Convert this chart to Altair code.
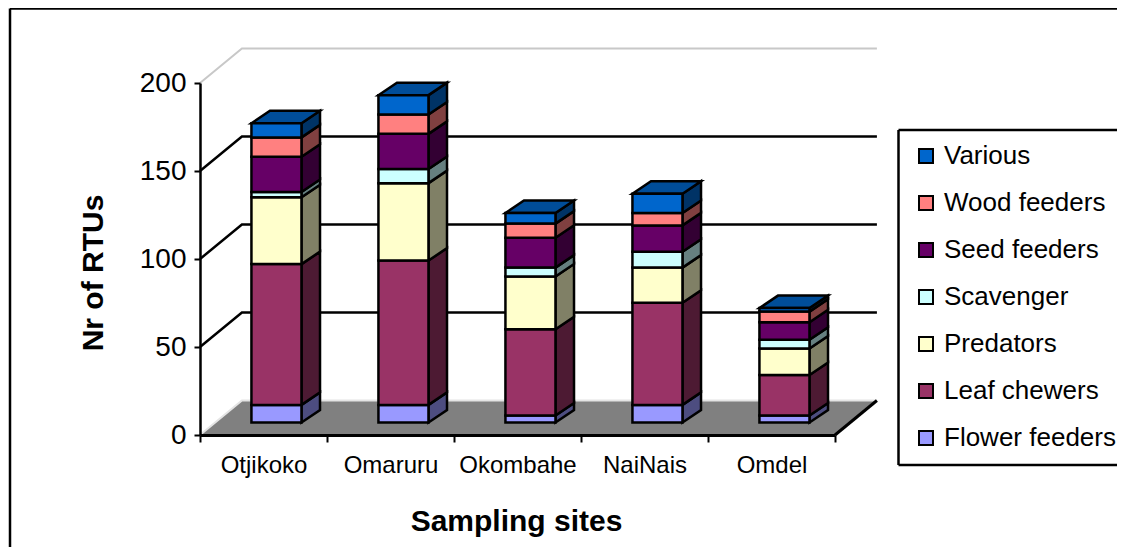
import altair as alt
import pandas as pd

sites = ["Otjikoko", "Omaruru", "Okombahe", "NaiNais", "Omdel"]
flower = [10, 10, 4, 10, 4]
leaf = [80, 82, 49, 58, 23]
predators = [38, 44, 30, 20, 15]
scavenger = [3, 8, 5, 9, 5]
seed = [20, 20, 17, 15, 10]
wood = [11, 11, 8, 7, 6]
various = [8, 11, 6, 11, 2]

guilds = ["Flower feeders", "Leaf chewers", "Predators", "Scavenger",
          "Seed feeders", "Wood feeders", "Various"]
series = [flower, leaf, predators, scavenger, seed, wood, various]
front_colors = ["#9999FF", "#993366", "#FFFFCC", "#CCFFFF", "#660066", "#FF8080", "#0066CC"]
side_colors = ["#4D4D80", "#4D1A33", "#808066", "#668080", "#330033", "#804040", "#003366"]
top_color = "#004D99"
y_ticks = [0, 50, 100, 150, 200]
grid_values = [50, 100, 150]

# oblique projection, in scale units (x: one category per unit, y: RTUs)
WALL_X, WALL_Y = 0.33, 19.6
BAR_X, BAR_W = 0.405, 0.394
BAR_BASE = 7.1
DEPTH_X, DEPTH_Y = 0.146, 7.1
N = len(sites)

front_rows, side_rows, top_rows = [], [], []
for i, site in enumerate(sites):
    x0 = i + BAR_X
    x1 = x0 + BAR_W
    low = BAR_BASE
    for guild, vals, sc in zip(guilds, series, side_colors):
        high = low + vals[i]
        front_rows.append(dict(site=site, guild=guild, count=vals[i], x=x0, x1=x1, y=low, high=high))
        key = f"{site}-{guild}"
        side_rows += [
            dict(key=key, color=sc, x=x1, y=low, y2=high),
            dict(key=key, color=sc, x=x1 + DEPTH_X, y=low + DEPTH_Y, y2=high + DEPTH_Y),
        ]
        low = high
    top_rows += [
        dict(key=site, x=x0, y=low, y2=low),
        dict(key=site, x=x0 + DEPTH_X, y=low, y2=low + DEPTH_Y),
        dict(key=site, x=x1, y=low, y2=low + DEPTH_Y),
        dict(key=site, x=x1 + DEPTH_X, y=low + DEPTH_Y, y2=low + DEPTH_Y),
    ]

floor_rows = [
    dict(x=0, y=0, y2=0),
    dict(x=WALL_X, y=0, y2=WALL_Y),
    dict(x=N, y=0, y2=WALL_Y),
    dict(x=N + WALL_X, y=WALL_Y, y2=WALL_Y),
]

def wall_line(v):
    return [dict(v=v, x=0, y=v), dict(v=v, x=WALL_X, y=v + WALL_Y), dict(v=v, x=N + WALL_X, y=v + WALL_Y)]

grid_rows = [r for v in grid_values for r in wall_line(v)]
top_edge_rows = wall_line(200)
floor_edge_rows = wall_line(0)
right_edge_rows = [dict(x=N, y=0), dict(x=N + WALL_X, y=WALL_Y)]

FONT = "Liberation Sans"
label_expr = "[" + ",".join(f"'{s}'" for s in sites) + ",''][datum.value]"

x_axis = alt.Axis(
    values=list(range(N + 1)), labelExpr=label_expr, labelOffset=63.5, labelFlush=False,
    labelOverlap=False, labelAlign="center", labelFontSize=24, labelFont=FONT, labelColor="black",
    labelPadding=11, tickColor="black", tickWidth=2, tickSize=7, domainColor="black", domainWidth=3,
    grid=False, zindex=1, title="Sampling sites", titleFont=FONT, titleFontSize=30,
    titleFontWeight="bold", titleColor="black", titleX=316, titleY=71,
)
y_axis = alt.Axis(
    values=y_ticks, labelFontSize=28, labelFont=FONT, labelColor="black", labelPadding=8,
    tickColor="black", tickWidth=2, tickSize=6, domainColor="black", domainWidth=2.5,
    grid=False, zindex=1, title="Nr of RTUs", titleFont=FONT, titleFontSize=30,
    titleFontWeight="bold", titleColor="black", titleX=-92, titleY=189.5,
)
x_scale = alt.Scale(domain=[0, N], nice=False, zero=False)
y_scale = alt.Scale(domain=[0, 200], nice=False)
x_enc = alt.X("x:Q", scale=x_scale, axis=x_axis)
y_enc = alt.Y("y:Q", scale=y_scale, axis=y_axis)

floor = alt.Chart(pd.DataFrame(floor_rows)).mark_area(fill="#808080").encode(x=x_enc, y=y_enc, y2="y2:Q")
grid = alt.Chart(pd.DataFrame(grid_rows)).mark_line(color="black", strokeWidth=2.5).encode(x=x_enc, y=y_enc, detail="v:N")
top_edge = alt.Chart(pd.DataFrame(top_edge_rows)).mark_line(color="#c8c8c8", strokeWidth=2).encode(x=x_enc, y=y_enc)
floor_edge = alt.Chart(pd.DataFrame(floor_edge_rows)).mark_line(color="#e4e4e4", strokeWidth=2).encode(x=x_enc, y=y_enc)
right_edge = alt.Chart(pd.DataFrame(right_edge_rows)).mark_line(color="black", strokeWidth=3).encode(x=x_enc, y=y_enc)

sides = alt.Chart(pd.DataFrame(side_rows)).mark_area(stroke="black", strokeWidth=2.5).encode(
    x=x_enc, y=y_enc, y2="y2:Q",
    color=alt.Color("color:N", scale=None), detail="key:N",
)
tops = alt.Chart(pd.DataFrame(top_rows)).mark_area(stroke="black", strokeWidth=2.5, fill=top_color).encode(
    x=x_enc, y=y_enc, y2="y2:Q", detail="key:N",
)
fronts = alt.Chart(pd.DataFrame(front_rows)).mark_rect(stroke="black", strokeWidth=2.5).encode(
    x=x_enc,
    x2="x1:Q",
    y=y_enc,
    y2="high:Q",
    fill=alt.Fill(
        "guild:N",
        scale=alt.Scale(domain=guilds[::-1], range=front_colors[::-1]),
        legend=alt.Legend(
            orient="none", legendX=713, legendY=60, title=None, symbolType="square", symbolSize=196,
            symbolStrokeColor="black", symbolStrokeWidth=2, labelFont=FONT, labelFontSize=26,
            labelColor="black", labelLimit=300, rowPadding=21, labelOffset=5, padding=0,
        ),
    ),
)

# frame pieces around the chart and the legend, in pixels from the plot origin
def rule(color, width, **enc):
    return alt.Chart(pd.DataFrame({"a": [0]})).mark_rule(color=color, strokeWidth=width).encode(**{k: alt.value(v) for k, v in enc.items()})

frame = [
    rule("black", 2.5, x=-190, y=-74.5, y2=470),
    rule("black", 2.5, x=-190, x2=925, y=-74.5),
    rule("black", 2.5, x=698.5, y=47, y2=382),
    rule("black", 2.5, x=698.5, x2=925, y=47),
    rule("black", 2.5, x=698.5, x2=925, y=382),
]

chart = alt.layer(
    *frame, floor, grid, top_edge, floor_edge, right_edge, sides, tops, fronts
).properties(
    width=635, height=352, background="white",
    padding={"left": 192, "top": 75, "right": 282, "bottom": 112},
    autosize=alt.AutoSizeParams(type="none"),
).configure_view(stroke=None)

chart.save("out.html", embed_options={"renderer": "svg", "actions": False})
